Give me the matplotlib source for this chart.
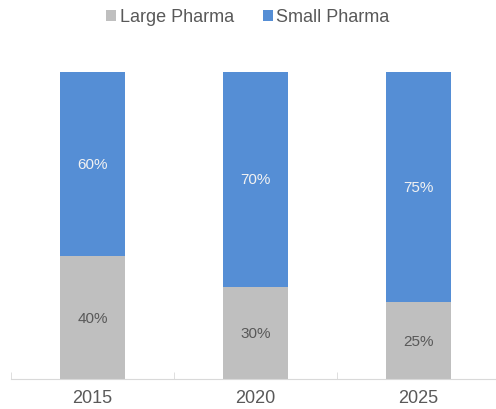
import matplotlib.pyplot as plt
import numpy as np

plt.rcParams['font.family'] = ['Liberation Sans', 'DejaVu Sans']

# Data
years = ['2015', '2020', '2025']
large_pharma = [40, 30, 25]
small_pharma = [60, 70, 75]

gray = '#BFBFBF'
blue = '#558ED5'
text_col = '#595959'

fig = plt.figure(figsize=(4.96, 4.10), dpi=100)
ax = fig.add_axes([11 / 496, 30 / 410, 489 / 496, (380 - 73) / 410])

x = np.arange(len(years))
large = np.array(large_pharma) / 100
small = np.array(small_pharma) / 100

b1 = ax.bar(x, large, width=0.4, color=gray, label='Large Pharma')
b2 = ax.bar(x, small, width=0.4, bottom=large, color=blue, label='Small Pharma')

for i in range(len(years)):
    ax.text(x[i], large[i] / 2, f'{large_pharma[i]}%', ha='center', va='center',
            fontsize=11, color=text_col)
    ax.text(x[i], large[i] + small[i] / 2, f'{small_pharma[i]}%', ha='center', va='center',
            fontsize=11, color='#F2F2F2')

ax.set_xlim(-0.5, 2.5)
ax.set_ylim(0, 1)
ax.set_yticks([])
ax.set_xticks(x)
ax.set_xticklabels(years, fontsize=13, color=text_col)
ax.set_xticks([-0.5, 0.5, 1.5, 2.5], minor=True)
ax.tick_params(axis='x', which='major', length=0, pad=7)
ax.tick_params(axis='x', which='minor', length=5, direction='in', color='#D9D9D9')
for s in ['top', 'right', 'left']:
    ax.spines[s].set_visible(False)
ax.spines['bottom'].set_color('#D9D9D9')
ax.spines['bottom'].set_clip_on(False)

fig.legend(handles=[b1, b2], loc='center', bbox_to_anchor=(0.5, 1 - 18 / 410), ncol=2,
           frameon=False, fontsize=13, labelcolor=text_col, handlelength=0.55,
           handleheight=0.55, handletextpad=0.2, columnspacing=1.6)

fig.savefig('out.png', dpi=100)
